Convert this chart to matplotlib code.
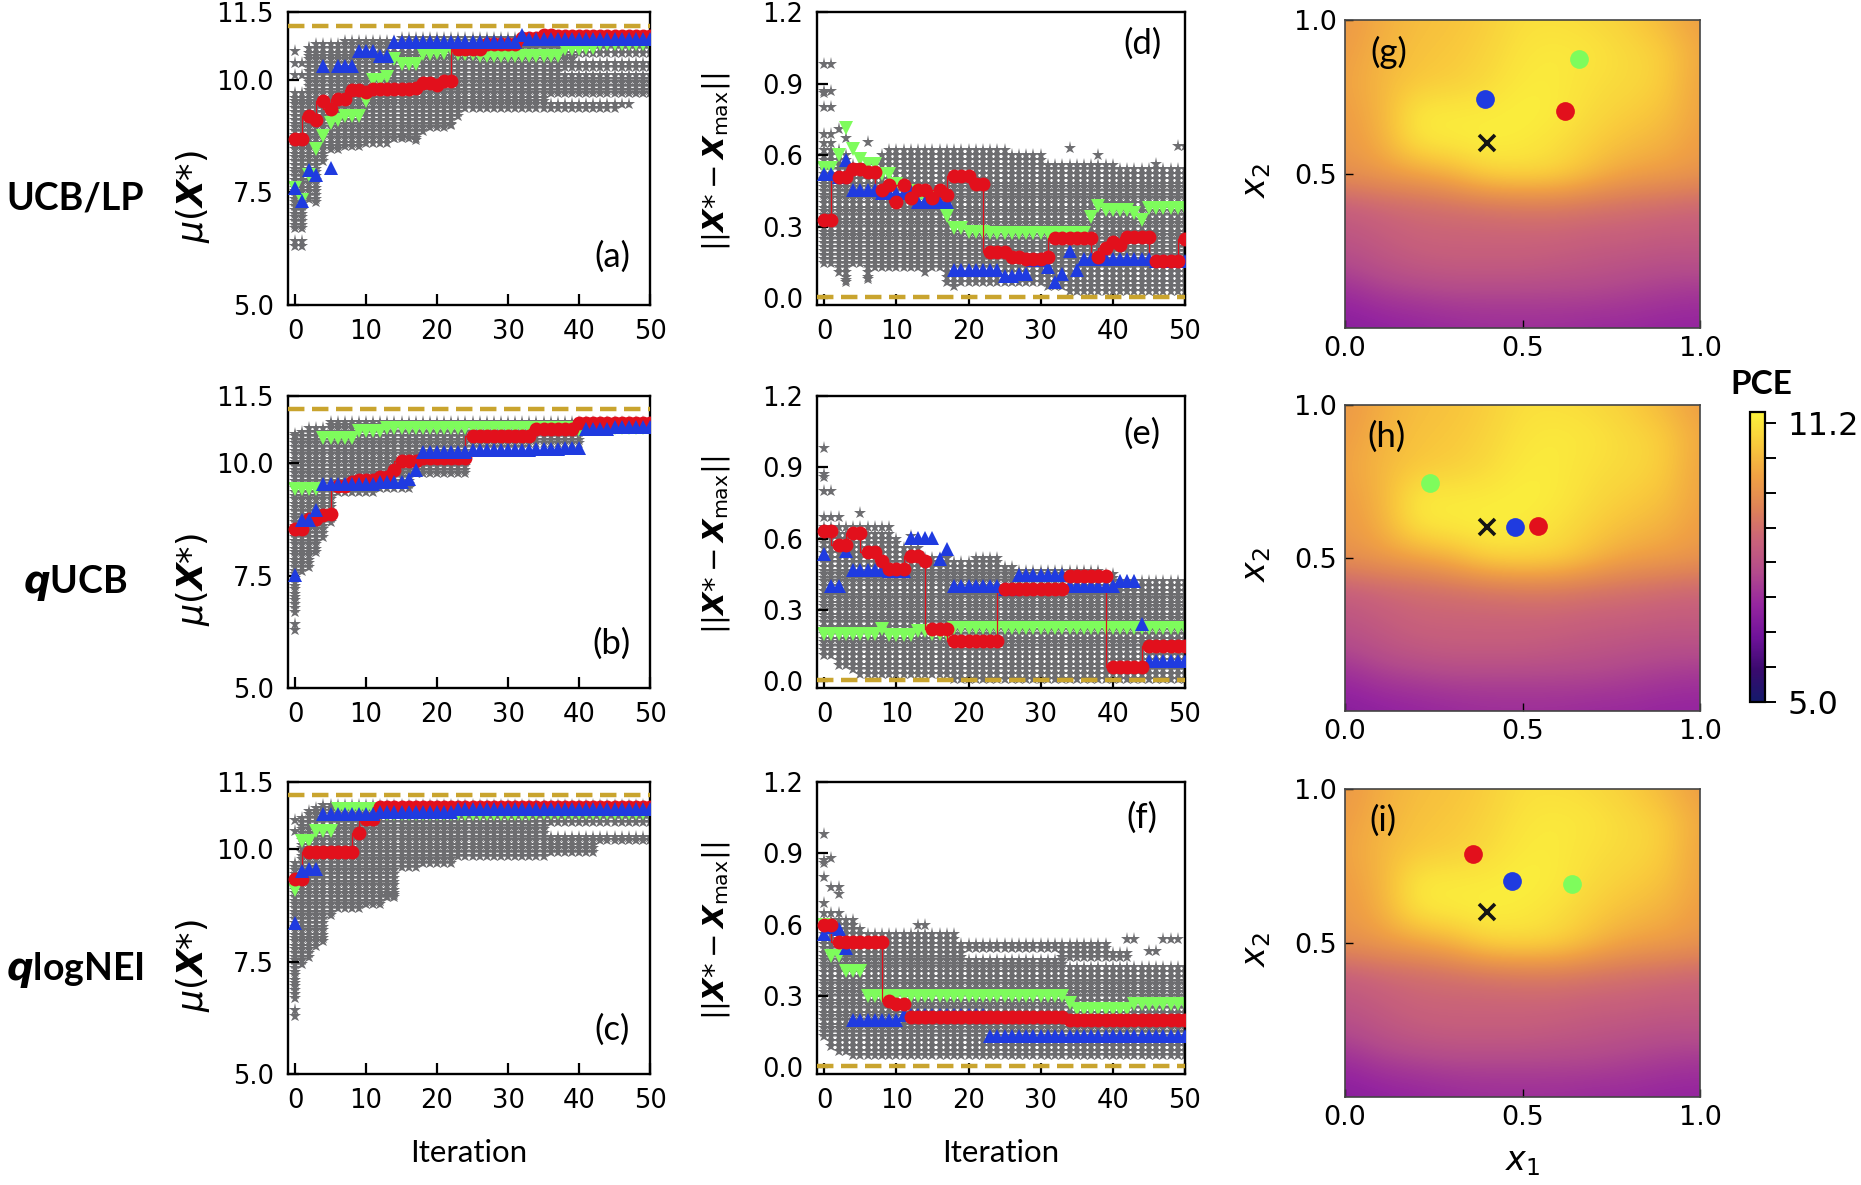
import numpy as np
import matplotlib
matplotlib.use("Agg")
import matplotlib.pyplot as plt
from matplotlib.colors import LinearSegmentedColormap

## Data
iters = list(range(51))

# best-so-far mean, panels a-c (red, blue, green)
red_a = [8.68]*2 + [9.2, 9.1, 9.53, 9.35, 9.58, 9.58, 9.78, 9.78, 9.72] + [9.79]*6 + [9.81, 9.93, 9.93, 9.89, 9.96, 9.96] + [10.69]*4 + [10.8]*5 + [10.93]*3 + [10.98]*2 + [10.96]*14
blue_a = [7.59, 7.3, 8.0, 7.89, 10.3, 8.04, 10.3, 10.3, 10.3, 10.63, 10.63, 10.63, 10.52, 10.52] + [10.83]*18 + [11.0] + [10.89]*18
green_a = [7.6, 7.33, 7.89, 8.47, 8.74, 9.04, 9.11, 9.19, 9.19, 9.19, 9.52, 10.0, 10.0, 10.06, 10.46, 10.35, 10.35, 10.35, 10.56, 10.56, 10.6, 10.6, 10.67, 10.57, 10.57, 10.57] + [10.52]*12 + [10.67]*3 + [10.7]*2 + [10.78]*8
low_a = [6.3, 6.3, 7.3, 7.25, 8.2, 8.45, 8.45, 8.5, 8.5, 8.5, 8.55, 8.55, 8.6, 8.6, 8.65, 8.65, 8.7, 8.7, 8.85, 8.9, 8.95, 8.95, 9.0, 9.15] + [9.35]*22 + [9.4, 9.45, 9.5, 9.55, 9.55]
high_a = [9.75, 9.75, 10.75, 10.8, 10.85, 10.85, 10.85, 10.9, 10.9, 10.9, 10.9, 10.9, 10.9, 10.9, 10.9] + [10.96]*36

red_b = [8.54, 8.54, 8.77, 8.77, 8.85, 8.87, 9.49, 9.49, 9.58, 9.63, 9.63, 9.63, 9.7, 9.7, 9.85, 10.06, 10.06, 10.06] + [10.13]*7 + [10.61]*9 + [10.77]*6 + [10.9]*11
blue_b = [7.52, 8.73, 8.73, 8.96] + [9.54]*8 + [9.58]*4 + [9.65, 9.85] + [10.26]*7 + [10.29]*9 + [10.32]*4 + [10.35]*3 + [10.77]*4 + [10.81]*6
green_b = [9.43]*4 + [10.56]*5 + [10.72]*4 + [10.79]*27 + [10.75] + [10.79]*10
low_b = [6.3, 7.55, 7.7, 8.0, 8.3, 8.7, 9.3, 9.3, 9.3, 9.3, 9.3, 9.3, 9.4, 9.4, 9.4, 9.4, 9.4, 9.75] + [9.75]*7 + [10.3]*8 + [10.45]*8 + [10.75]*10
high_b = [10.6, 10.6, 10.8, 10.8, 10.85] + [10.92]*46

red_c = [9.35, 9.35] + [9.95]*7 + [10.37, 10.68, 10.68] + [10.94]*39
blue_c = [8.37, 9.52, 9.56, 9.57] + [10.79]*8 + [10.83]*11 + [10.89]*28
green_c = [9.09, 10.19, 10.19, 10.41, 10.41, 10.41] + [10.9]*6 + [10.78]*22 + [10.8]*17
low_c = [6.3, 7.4, 7.6, 7.8, 7.95, 8.5, 8.7, 8.7, 8.7, 8.7, 8.78, 8.78, 8.78, 8.95, 8.95, 9.55, 9.55, 9.55] + [9.7]*5 + [9.8]*13 + [9.9]*13 + [10.1, 10.1]
high_c = [9.7, 10.75, 10.9, 10.95] + [10.98]*47

# distance to the optimum, panels d-f (red, blue, green)
red_d = [0.33, 0.33, 0.51, 0.51, 0.54, 0.54, 0.53, 0.53, 0.456, 0.474, 0.405, 0.477, 0.419, 0.456, 0.456, 0.419, 0.456, 0.435, 0.513, 0.513, 0.513, 0.478, 0.478, 0.195, 0.195, 0.195, 0.174, 0.174, 0.163, 0.163, 0.163, 0.174] + [0.254]*6 + [0.174, 0.21, 0.237, 0.223] + [0.258]*4 + [0.156]*4 + [0.25]
blue_d = [0.523, 0.523, 0.51, 0.58, 0.453, 0.453, 0.453, 0.453, 0.44, 0.44, 0.44, 0.44, 0.45] + [0.405]*5 + [0.12]*7 + [0.095, 0.095, 0.10, 0.10, 0.16, 0.16, 0.13, 0.07, 0.10, 0.2, 0.12] + [0.163]*10 + [0.156]*5
green_d = [0.545, 0.545, 0.6, 0.714, 0.625, 0.586, 0.565, 0.565, 0.52, 0.52, 0.48, 0.45, 0.45, 0.42, 0.42, 0.42, 0.42, 0.345, 0.293, 0.293, 0.276, 0.276, 0.276] + [0.272]*14 + [0.34, 0.387, 0.37, 0.37, 0.37, 0.37, 0.356, 0.33] + [0.377]*6
low_d = [0.14, 0.14, 0.10, 0.07, 0.15, 0.14, 0.08, 0.13, 0.12, 0.12, 0.12, 0.12, 0.12, 0.12, 0.10, 0.13, 0.13, 0.06, 0.05, 0.07] + [0.07]*11 + [0.05]*3 + [0.03]*17
high_d = [0.7, 0.7, 0.62, 0.60, 0.56, 0.56, 0.56, 0.57, 0.60] + [0.62]*12 + [0.63] + [0.62]*4 + [0.60]*5 + [0.57]*10 + [0.54]*10

red_e = [0.632, 0.632, 0.572, 0.572, 0.625, 0.625, 0.545, 0.545, 0.506, 0.474, 0.474, 0.474, 0.527, 0.527, 0.504, 0.22, 0.22, 0.22] + [0.169]*7 + [0.39]*9 + [0.444]*6 + [0.06]*5 + [0.15]*6
blue_e = [0.534, 0.40, 0.40, 0.548] + [0.47]*5 + [0.465]*3 + [0.604]*4 + [0.513, 0.555] + [0.40]*7 + [0.39, 0.39] + [0.448]*7 + [0.40]*7 + [0.42]*3 + [0.24] + [0.084]*6
green_e = [0.2]*8 + [0.22] + [0.195]*4 + [0.213, 0.213, 0.2, 0.2, 0.2] + [0.223]*33
low_e = [0.1, 0.1, 0.06, 0.06, 0.04, 0.03, 0.03, 0.03] + [0.03]*9 + [0.02] + [0.01]*33
high_e = [0.69, 0.69, 0.69] + [0.65]*7 + [0.6, 0.57, 0.57, 0.57, 0.53, 0.53, 0.53, 0.53, 0.50, 0.50, 0.50, 0.53, 0.53, 0.53, 0.53, 0.49, 0.49] + [0.47]*12 + [0.45, 0.45] + [0.42]*10

red_f = [0.597, 0.597] + [0.528]*7 + [0.28, 0.267, 0.267] + [0.21]*22 + [0.2]*17
blue_f = [0.56, 0.59, 0.583, 0.5] + [0.2]*7 + [0.22]*12 + [0.13]*28
green_f = [0.6, 0.47, 0.47, 0.405, 0.405, 0.405] + [0.3]*28 + [0.27] + [0.245]*8 + [0.267]*8
low_f = [0.12, 0.08, 0.06, 0.06] + [0.04]*47
high_f = [0.69, 0.66, 0.66, 0.62, 0.62, 0.58] + [0.56]*13 + [0.52]*14 + [0.53]*7 + [0.49]*3 + [0.46] + [0.43]*7

# rows of stars that show up in the grey clouds
mu_levels = [6.3, 6.42, 6.7, 6.78, 6.86, 6.95, 7.02, 7.1, 7.2, 7.28, 7.36, 7.45, 7.53, 7.6, 7.7, 7.78, 7.86, 7.95, 8.02, 8.1, 8.2, 8.28, 8.36, 8.45, 8.53, 8.6, 8.7, 8.78, 8.86, 8.95, 9.02, 9.1, 9.2, 9.28, 9.36, 9.45, 9.53, 9.6, 9.7, 9.78, 9.86, 9.95, 10.02, 10.1, 10.2, 10.28, 10.36, 10.45, 10.53, 10.6, 10.7, 10.78, 10.86, 10.92, 10.98]
dist_levels = [0.01, 0.03, 0.05, 0.07, 0.09, 0.11, 0.13, 0.15, 0.165, 0.18, 0.2, 0.215, 0.23, 0.25, 0.265, 0.28, 0.3, 0.315, 0.33, 0.35, 0.365, 0.38, 0.4, 0.42, 0.435, 0.45, 0.465, 0.48, 0.5, 0.52, 0.54, 0.56, 0.58, 0.6, 0.62, 0.65, 0.69]

# stray stars outside the clouds
extra_a = [(0, 10.63), (0, 10.37), (0, 10.1), (1, 10.37), (1, 10.1), (2, 10.7), (15, 8.75), (14, 8.7), (17, 8.67), (22, 9.0)]
extra_b = [(0, 10.65), (1, 10.7)]
extra_c = [(0, 10.4), (0, 10.65), (13, 8.96), (14, 8.98)]
extra_d = [(0, 0.98), (1, 0.98), (0, 0.87), (1, 0.87), (0, 0.86), (0, 0.8), (1, 0.8), (2, 0.71), (3, 0.67), (6, 0.655), (3, 0.075), (6, 0.08), (34, 0.63), (38, 0.6), (49, 0.64), (50, 0.64), (46, 0.565)]
extra_e = [(0, 0.98), (0, 0.87), (0, 0.86), (0, 0.8), (1, 0.8), (5, 0.71), (12, 0.61)]
extra_f = [(0, 0.98), (0, 0.87), (0, 0.86), (1, 0.88), (0, 0.8), (1, 0.76), (2, 0.76), (2, 0.73), (13, 0.6), (14, 0.6), (42, 0.54), (43, 0.54), (45, 0.49), (46, 0.49), (47, 0.54), (48, 0.54), (49, 0.54)]

# empty bands inside the clouds: (first iter, last iter, low, high)
gaps_a = [(40, 50, 10.42, 10.55), (38, 50, 10.12, 10.2), (36, 50, 9.5, 9.62)]
gaps_b = []
gaps_c = [(36, 50, 10.34, 10.58), (43, 50, 9.95, 10.1)]
gaps_d = []
gaps_e = []
gaps_f = [(20, 32, 0.46, 0.485), (34, 43, 0.43, 0.455)]

# PCE surface, rows from x2=0 to x2=1, columns from x1=0 to x1=1
pce_grid = [
    [6.9, 7.0, 7.1, 7.2, 7.3, 7.3, 7.3, 7.2, 7.2, 7.1, 7.1],
    [7.2, 7.5, 7.6, 7.7, 7.7, 7.7, 7.7, 7.7, 7.6, 7.5, 7.4],
    [7.8, 8.1, 8.3, 8.4, 8.4, 8.4, 8.3, 8.2, 8.1, 8.0, 8.0],
    [8.2, 8.4, 8.6, 8.6, 8.6, 8.6, 8.6, 8.5, 8.5, 8.4, 8.4],
    [8.5, 8.7, 8.8, 8.9, 9.0, 9.1, 9.1, 9.0, 8.9, 8.8, 8.7],
    [9.6, 9.8, 10.0, 10.3, 10.9, 11.0, 10.9, 10.4, 10.0, 9.9, 9.7],
    [9.8, 10.2, 11.2, 11.3, 11.4, 11.3, 11.1, 10.8, 10.5, 10.3, 9.9],
    [9.9, 10.3, 11.3, 11.3, 11.3, 11.4, 11.3, 11.0, 10.8, 10.6, 10.0],
    [10.0, 10.4, 10.7, 10.8, 11.0, 11.3, 11.3, 11.1, 11.0, 10.8, 10.0],
    [9.9, 10.3, 10.6, 10.7, 10.9, 11.2, 11.3, 11.2, 11.0, 10.8, 10.1],
    [9.8, 10.2, 10.5, 10.6, 10.8, 11.1, 11.1, 11.0, 10.8, 10.4, 9.9],
]

# best points on the maps: (x1, x2)
opt_point = (0.4, 0.6)
pts_g = {"blue": (0.395, 0.745), "red": (0.62, 0.705), "green": (0.66, 0.875)}
pts_h = {"blue": (0.48, 0.6), "red": (0.545, 0.605), "green": (0.24, 0.745)}
pts_i = {"blue": (0.47, 0.70), "red": (0.36, 0.79), "green": (0.64, 0.69)}

mu_max = 11.2
dist_min = 0.005
cbar_ticks = [5.0, 5.775, 6.55, 7.325, 8.1, 8.875, 9.65, 10.425, 11.2]
row_names = ["UCB/LP", "$\\bfit{q}$UCB", "$\\bfit{q}$logNEI"]

## Style
W, H = 1861, 1185
RED = "#e2101c"
BLUE = "#1f3be0"
GREEN = "#7efc5c"
GREY = "#6d6d70"
GOLD = "#c9a42e"
LABEL_FONT = ["Lato", "DejaVu Sans"]
plt.rcParams["mathtext.fontset"] = "dejavusans"
plt.rcParams["font.family"] = "DejaVu Sans"

cmap = LinearSegmentedColormap.from_list("pce", [
    "#141a6b", "#3a0a6e", "#6f129a", "#95259f", "#b24a8c", "#c9627a",
    "#de8258", "#f0a144", "#f9c93c", "#fbf23c"])


def pax(fig, left, top, right, bottom):
    # axes placed by pixel edges
    return fig.add_axes([left / W, 1 - bottom / H, (right - left) / W, (bottom - top) / H])


def in_gap(i, lv, gaps):
    return any(g[0] <= i <= g[1] and g[2] <= lv <= g[3] for g in gaps)


def draw_run(ax, low, high, levels, gaps, extra, red, blue, green, opt, blue_top):
    xs, ys = [], []
    for i in iters:
        for lv in levels:
            if low[i] <= lv <= high[i] and not in_gap(i, lv, gaps):
                xs.append(i)
                ys.append(lv)
    xs += [e[0] for e in extra]
    ys += [e[1] for e in extra]
    ax.plot(xs, ys, ls="none", marker="*", ms=9.5, color=GREY, mew=0, zorder=1)
    ax.plot(iters, green, ls="none", marker="v", ms=10.5, color=GREEN, mew=0, zorder=2)
    ax.step(iters, red, where="pre", color=RED, lw=0.9, zorder=3)
    ax.plot(iters, red, ls="none", marker="o", ms=10, color=RED, mew=0, zorder=4 if blue_top else 6)
    ax.plot(iters, blue, ls="none", marker="^", ms=10.5, color=BLUE, mew=0, zorder=5)
    ax.axhline(opt, color=GOLD, lw=3.2, dashes=(3.7, 1.7), zorder=7)
    ax.set_xlim(-1, 50)
    ax.set_xticks([0, 10, 20, 30, 40, 50])
    ax.tick_params(direction="in", length=8, width=1.6, labelsize=18.5, pad=10, top=False, right=False)
    for s in ax.spines.values():
        s.set_linewidth(1.7)


fig = plt.figure(figsize=(W / 100, H / 100), dpi=100)

tops = [12, 396, 782]
bots = [305, 688, 1074]
mu_sets = [(low_a, high_a, gaps_a, extra_a, red_a, blue_a, green_a, "(a)", 0.166),
           (low_b, high_b, gaps_b, extra_b, red_b, blue_b, green_b, "(b)", 0.15),
           (low_c, high_c, gaps_c, extra_c, red_c, blue_c, green_c, "(c)", 0.15)]
dist_sets = [(low_d, high_d, gaps_d, extra_d, red_d, blue_d, green_d, "(d)", 0.89),
             (low_e, high_e, gaps_e, extra_e, red_e, blue_e, green_e, "(e)", 0.87),
             (low_f, high_f, gaps_f, extra_f, red_f, blue_f, green_f, "(f)", 0.878)]
map_sets = [(pts_g, "(g)", 0.124), (pts_h, "(h)", 0.118), (pts_i, "(i)", 0.107)]
map_tops = [20, 405, 789]
map_bots = [328, 711, 1097]
row_y = [198, 583, 970]

for r in range(3):
    # left column
    ax = pax(fig, 288, tops[r], 650, bots[r])
    low, high, gaps, extra, red, blue, green, tag, tag_y = mu_sets[r]
    draw_run(ax, low, high, mu_levels, gaps, extra, red, blue, green, mu_max, True)
    ax.set_ylim(5.0, 11.5)
    ax.set_yticks([5.0, 7.5, 10.0, 11.5])
    ax.set_yticklabels(["5.0", "7.5", "10.0", "11.5"])
    ax.set_ylabel(r"$\mu(\mathbfit{X}\mathrm{*})$", fontsize=25)
    ax.yaxis.set_label_coords((212 - 288) / 362, 0.37)
    ax.text(0.895, tag_y, tag, transform=ax.transAxes, fontsize=25, family=LABEL_FONT, ha="center", va="center")
    if r == 2:
        ax.set_xlabel("Iteration", fontsize=22.5, family=LABEL_FONT, labelpad=18)

    # middle column
    ax = pax(fig, 817, tops[r], 1185, bots[r])
    low, high, gaps, extra, red, blue, green, tag, tag_y = dist_sets[r]
    draw_run(ax, low, high, dist_levels, gaps, extra, red, blue, green, dist_min, False)
    ax.set_ylim(-0.028, 1.2)
    ax.set_yticks([0.0, 0.3, 0.6, 0.9, 1.2])
    ax.set_ylabel(r"$||\mathbfit{X}\mathrm{*}-\mathbfit{X}_{\mathrm{max}}||$", fontsize=21)
    ax.yaxis.set_label_coords((732 - 817) / 368, 0.49)
    ax.text(0.884, tag_y, tag, transform=ax.transAxes, fontsize=25, family=LABEL_FONT, ha="center", va="center")
    if r == 2:
        ax.set_xlabel("Iteration", fontsize=22.5, family=LABEL_FONT, labelpad=18)

    # right column
    ax = pax(fig, 1345, map_tops[r], 1700, map_bots[r])
    pts, tag, tag_x = map_sets[r]
    im = ax.imshow(pce_grid, origin="lower", extent=(-0.05, 1.05, -0.05, 1.05), aspect="auto",
                   cmap=cmap, vmin=5.0, vmax=11.44, interpolation="bicubic")
    ax.set_xlim(0, 1)
    ax.set_ylim(0, 1)
    ax.set_xticks([0.0, 0.5, 1.0])
    ax.set_yticks([0.5, 1.0])
    ax.tick_params(direction="in", length=6, width=1.0, labelsize=19.5, pad=6, top=False, right=False)
    for s in ax.spines.values():
        s.set_linewidth(1.2)
        s.set_color("#444444")
    for name, col in [("green", GREEN), ("blue", BLUE), ("red", RED)]:
        ax.plot(pts[name][0], pts[name][1], "o", color=col, ms=13.5, mew=0)
    ax.plot(opt_point[0], opt_point[1], "x", color="#151515", ms=11, mew=2.6)
    ax.set_ylabel("$x_2$", fontsize=24)
    ax.yaxis.set_label_coords((1273 - 1345) / 355, 0.48)
    ax.text(tag_x, 0.896, tag, transform=ax.transAxes, fontsize=25, family=LABEL_FONT, ha="center", va="center")
    if r == 2:
        ax.set_xlabel("$x_1$", fontsize=24, labelpad=10)

    fig.text(75 / W, 1 - row_y[r] / H, row_names[r], fontsize=27, family=LABEL_FONT, weight="bold", ha="center", va="center", math_fontfamily="dejavusans")

# colour bar
cax = pax(fig, 1750, 412, 1765, 702)
cb = fig.colorbar(im, cax=cax)
cb.set_ticks(cbar_ticks)
cb.set_ticklabels(["5.0", "", "", "", "", "", "", "", "11.2"])
cax.tick_params(length=8, width=1.4, labelsize=23, pad=8)
cb.outline.set_linewidth(1.6)
fig.text(1761 / W, 1 - 385 / H, "PCE", fontsize=24, family=LABEL_FONT, weight="bold", ha="center", va="center")

fig.savefig("out.png", dpi=100)
